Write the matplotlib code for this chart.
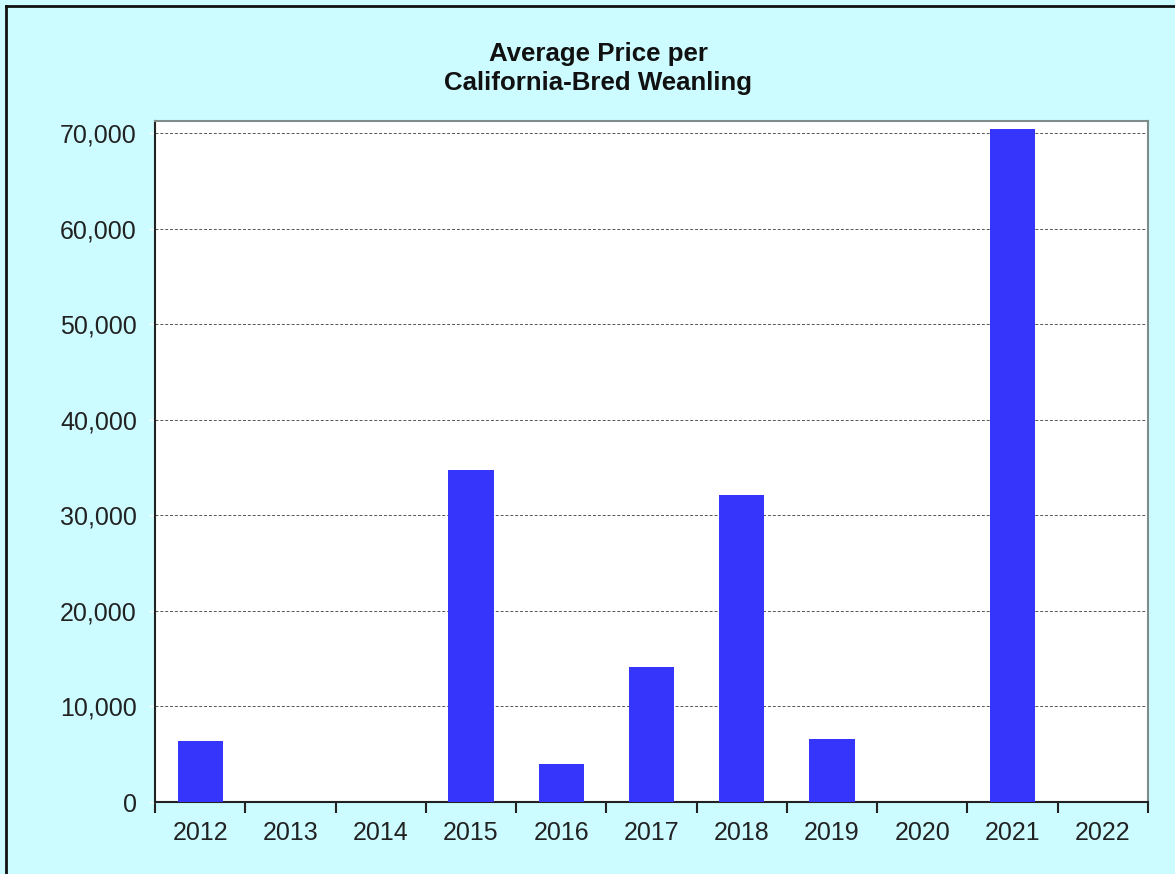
import matplotlib.pyplot as plt
from matplotlib.lines import Line2D
from matplotlib.ticker import FuncFormatter, MultipleLocator

years = ['2012', '2013', '2014', '2015', '2016', '2017', '2018', '2019', '2020', '2021', '2022']
avg_price = [6380, 0, 0, 34730, 3980, 14120, 32110, 6590, 0, 70400, 0]
title_lines = ['Average Price per', 'California-Bred Weanling']

plt.rcParams['font.family'] = ['Liberation Sans', 'DejaVu Sans']

bg = '#ccfcff'
fig = plt.figure(figsize=(11.75, 8.74), dpi=100, facecolor=bg)
ax = fig.add_axes([155 / 1175, 1 - 802 / 874, (1148 - 155) / 1175, (802 - 121) / 874])
ax.set_facecolor('white')

x = range(len(years))
ax.bar(x, avg_price, width=0.5, color='#3535fb', zorder=3)

ax.set_xlim(-0.5, len(years) - 0.5)
ax.set_ylim(0, 71250)
ax.yaxis.set_major_locator(MultipleLocator(10000))
ax.yaxis.set_major_formatter(FuncFormatter(lambda v, p: f'{int(v):,}'))
ax.grid(axis='y', color='#555555', linestyle=(0, (3, 2)), linewidth=0.7, zorder=1)

ax.set_xticks(list(x))
ax.set_xticklabels(years)
ax.set_xticks([i - 0.5 for i in range(len(years) + 1)], minor=True)
ax.tick_params(axis='x', which='major', length=0, pad=14, labelsize=18, colors='#222222')
ax.tick_params(axis='x', which='minor', length=8, width=1.5, color='#222222')
ax.tick_params(axis='y', length=4, width=1, color='white', pad=9, labelsize=18, labelcolor='#222222')

for side in ['left', 'bottom']:
    ax.spines[side].set_color('#222222')
    ax.spines[side].set_linewidth(1.5)
for side in ['top', 'right']:
    ax.spines[side].set_color('#7f8c8c')
    ax.spines[side].set_linewidth(1.5)

# two-line title, baselines placed separately
for line, base in zip(title_lines, [61, 90]):
    fig.text(0.509, 1 - base / 874, line, ha='center', va='baseline',
             fontsize=18.6, fontweight='bold', color='#111111')

# outer border (left and top edge only visible)
fig.add_artist(Line2D([6 / 1175, 6 / 1175], [0, 1 - 6 / 874], color='#111111', linewidth=2,
                      transform=fig.transFigure))
fig.add_artist(Line2D([6 / 1175, 1], [1 - 6 / 874, 1 - 6 / 874], color='#111111', linewidth=2,
                      transform=fig.transFigure))

fig.savefig('out.png', dpi=100, facecolor=bg)
